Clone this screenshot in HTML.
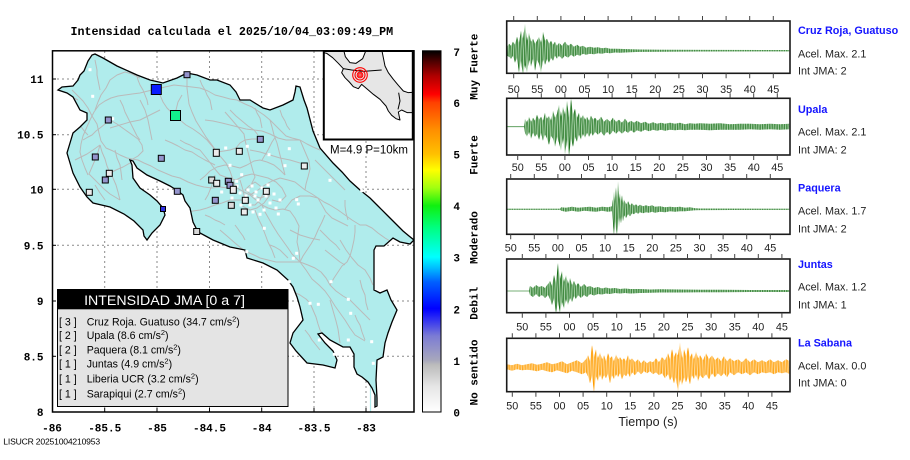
<!DOCTYPE html>
<html><head><meta charset="utf-8"><style>
html,body{margin:0;padding:0;background:#fff;}
svg{display:block;}
.mono{font-family:"Liberation Mono","DejaVu Sans Mono",monospace;font-weight:bold;}
.sans{font-family:"Liberation Sans","DejaVu Sans",sans-serif;}
</style></head><body>
<svg width="910" height="460" viewBox="0 0 910 460" xmlns="http://www.w3.org/2000/svg">
<defs>
<linearGradient id="cb" x1="0" y1="1" x2="0" y2="0">
<stop offset="0" stop-color="#ffffff"/>
<stop offset="0.07" stop-color="#e6e6e6"/>
<stop offset="0.13" stop-color="#bcbcbc"/>
<stop offset="0.143" stop-color="#a8a8bc"/>
<stop offset="0.21" stop-color="#7c7cd4"/>
<stop offset="0.26" stop-color="#2a2af4"/>
<stop offset="0.286" stop-color="#0000ff"/>
<stop offset="0.36" stop-color="#0060ff"/>
<stop offset="0.40" stop-color="#00c0ff"/>
<stop offset="0.429" stop-color="#00ffff"/>
<stop offset="0.51" stop-color="#00ff80"/>
<stop offset="0.571" stop-color="#10f010"/>
<stop offset="0.62" stop-color="#a0ff10"/>
<stop offset="0.67" stop-color="#ffff00"/>
<stop offset="0.714" stop-color="#ffc000"/>
<stop offset="0.78" stop-color="#ff9000"/>
<stop offset="0.857" stop-color="#ff4000"/>
<stop offset="0.88" stop-color="#ff0000"/>
<stop offset="0.93" stop-color="#b00000"/>
<stop offset="0.97" stop-color="#500000"/>
<stop offset="1" stop-color="#000000"/>
</linearGradient>
<pattern id="zg" patternUnits="userSpaceOnUse" x="0" y="-30" width="3.4" height="60"><path d="M0,0L1.7,60L3.4,0" fill="none" stroke="#0b650b" stroke-width="0.7"/></pattern>
<pattern id="zo" patternUnits="userSpaceOnUse" x="0" y="-30" width="3.2" height="60"><path d="M0,0L1.6,60L3.2,0" fill="none" stroke="#ff9c00" stroke-width="0.8"/></pattern>
<path id="landp" d="M58,90 L62,87 73,86 78,80 80,75 84,71 88,61 92,55 95,54 103,58 117,66 137,75 150,80 163,83 177,78 187,73 197,75 210,80 217,80 230,85 236,92 240,100 250,100 263,108 270,110 283,105 293,100 295,92 296,86 300,87 304,100 307,108 313,131 320,148 333,163 342,172 350,181 360,190 370,198 378,206 387,215 395,223 403,231 409,236 414,240 410,244 400,242 393,238 384,246 376,246 374,250 374,290 380,293 387,290 391,300 397,310 392,322 388,333 385,343 383,357 377,360 376,380 377,398 377,406 375,407 375,395 372,388 368,382 362,377 357,374 354,367 354,354 350,347 343,347 330,340 322,333 318,334 325,343 333,351 337,360 335,368 323,365 307,363 296,351 290,343 293,333 303,320 300,307 297,297 293,287 288,280 277,270 263,263 247,258 245,250 230,247 213,240 200,233 197,230 193,222 190,208 185,201 183,195 178,191 170,186 160,181 147,175 137,168 133,161 130,160 132,165 133,178 140,188 150,195 157,201 163,208 165,215 160,225 152,233 147,240 144,236 143,230 134,221 124,214 110,207 93,203 87,197 80,187 73,173 70,163 67,153 70,143 73,133 80,127 87,120 87,113 80,110 73,97 67,93 Z"/>
<clipPath id="landclip"><use href="#landp"/></clipPath>
<clipPath id="mapclip"><rect x="52" y="51" width="362" height="361"/></clipPath>
<clipPath id="insclip"><rect x="324" y="51" width="88" height="88"/></clipPath>
<clipPath id="c1"><rect x="507.5" y="21.8" width="281.7" height="50.7"/></clipPath>
<clipPath id="c2"><rect x="507.5" y="99.1" width="281.7" height="55.1"/></clipPath>
<clipPath id="c3"><rect x="507.5" y="179.8" width="281.7" height="53.7"/></clipPath>
<clipPath id="c4"><rect x="507.5" y="259.8" width="281.7" height="52.1"/></clipPath>
<clipPath id="c5"><rect x="507.5" y="339.1" width="281.7" height="51.8"/></clipPath>
<path id="e1" d="M507,-4 L509,-7 511,-5 513,-9 515,-6 517,-14 519,-8 521,-20 523,-12 525,-27 527,-10 529,-18 531,-9 533,-12 535,-7 537,-10 539,-14 541,-8 543,-19 545,-10 547,-12 549,-7 551,-10 553,-6 555,-9 557,-5 559,-8 562,-5 565,-9 568,-5 571,-7 574,-4 577,-6 580,-4 583,-5 586,-3 590,-4 594,-3 598,-3.5 602,-2.5 606,-3 610,-2 615,-2 620,-1.8 630,-1.5 640,-1.2 660,-1 700,-0.8 790,-0.7 L790,0.7 700,0.8 660,1 640,1.2 630,1.5 620,2 615,1.8 610,2.5 606,2 602,3 598,2.5 594,3.5 590,3 586,4 583,3 580,5 577,4 574,6 571,4 568,7 565,5 562,8 559,5 557,8 555,5 553,10 551,7 549,12 547,8 545,14 543,9 541,22 539,13 537,9 535,20 533,8 531,16 529,9 527,22 525,14 523,25 521,10 519,22 517,7 515,12 513,5 511,8 509,6 507,5 Z"/>
<path id="e2" d="M524,0 L525,-8 527,-4 529,-10 531,-5 533,-9 535,-6 537,-12 539,-7 541,-10 543,-6 545,-14 547,-8 549,-11 551,-6 553,-16 555,-9 557,-13 559,-22 561,-10 563,-20 565,-12 567,-26 569,-9 571,-28 573,-12 575,-18 577,-9 579,-14 581,-8 583,-12 585,-7 587,-10 589,-6 591,-11 593,-7 595,-9 598,-6 601,-10 604,-5 607,-8 610,-5 613,-9 616,-5 619,-7 622,-4 625,-8 628,-4 631,-6 634,-4 637,-6 641,-3.5 645,-5 649,-3 653,-4.5 657,-3 661,-4 665,-3 670,-4 675,-3 680,-4 685,-2.5 690,-3.5 695,-3 700,-3.5 710,-3 720,-3.5 730,-2.5 740,-3 750,-3 760,-2.5 770,-3 780,-2.5 790,-3 L790,2.5 780,3 770,2.5 760,3 750,2.5 740,3 730,3 720,3 710,3.5 700,3 695,3 690,3 685,3.5 680,3 675,3.5 670,3 665,4 661,3 657,4 653,3 649,4.5 645,3 641,5 637,3.5 634,6 631,3.5 628,6 625,4 622,7 619,4 616,7 613,4 610,8 607,5 604,9 601,5 598,8 595,5 593,9 591,6 589,10 587,6 585,11 583,7 581,13 579,8 577,15 575,10 573,20 571,12 569,30 567,13 565,28 563,11 561,24 559,16 557,10 555,20 553,12 551,9 549,18 547,12 545,8 543,14 541,6 539,13 537,7 535,10 533,6 531,12 529,5 527,10 525,6 524,0 Z"/>
<path id="e3" d="M507,-0.5 L560,-0.5 561,-2 566,-1.5 572,-2.5 578,-1.5 584,-2 590,-2.5 596,-1.5 602,-2.5 608,-2 612,-3 613,-10 614,-18 615,-8 616,-22 617,-12 618,-28 619,-10 620,-16 621,-8 622,-14 623,-6 624,-10 626,-5 628,-8 630,-4 632,-6 634,-3.5 636,-5 638,-3 640,-4.5 643,-3 646,-4 649,-3 652,-4 655,-2.5 660,-3 665,-2 670,-2.5 675,-2 680,-2.5 685,-1.5 690,-2 695,-1 700,-0.8 790,-0.5 L790,0.5 700,0.8 695,1 690,1.5 685,2 680,2 675,2.5 670,2 665,3 660,2.5 655,3.5 652,2.5 649,3.5 646,3 643,4 640,3 638,4.5 636,3 634,5 632,4 630,7 628,5 626,9 624,6 623,12 622,7 621,14 620,8 619,18 618,9 617,25 616,20 615,12 614,26 613,14 612,2 608,2.5 602,1.5 596,2.5 590,2 584,1.5 578,2.5 572,1.5 566,2.5 561,1.5 560,0.5 507,0.5 Z"/>
<path id="e4" d="M529,0 L530,-5 533,-3 536,-6 539,-4 542,-5 545,-3 548,-7 550,-10 552,-5 554,-16 556,-8 558,-28 560,-12 562,-20 564,-9 566,-16 568,-7 570,-13 572,-6 574,-10 576,-5 578,-8 581,-4 584,-7 587,-4 590,-5 594,-3 598,-4 602,-2.5 606,-3.5 610,-2.5 615,-3 620,-2 625,-2.5 630,-2 640,-2 650,-1.5 660,-1.8 680,-1.5 700,-1.2 720,-1.3 750,-1 790,-1 L790,1 750,1 720,1.2 700,1.2 680,1.5 660,1.5 650,1.8 640,2 630,2.5 625,2 620,2.5 615,2 610,3 606,2.5 602,3.5 598,3 594,4.5 590,3 587,6 584,4 581,7 578,4 576,8 574,5 572,11 570,7 568,14 566,8 564,18 562,11 560,22 558,10 556,22 554,7 552,14 550,8 548,4 545,7 542,4 539,6 536,3 533,6 530,4 529,0 Z"/>
<path id="e5" d="M507,-3 L512,-2 517,-3.5 522,-2 527,-3 532,-4 537,-2.5 542,-3.5 547,-5 552,-3 557,-4 562,-6 567,-3 572,-5 577,-7 582,-4 586,-8 588,-12 590,-6 592,-22 594,-10 596,-18 598,-9 600,-15 602,-8 604,-12 606,-6 608,-14 610,-9 612,-11 614,-6 616,-13 618,-8 620,-10 622,-7 624,-9 626,-6 628,-12 630,-7 632,-9 635,-5 638,-8 641,-4 644,-7 647,-4 650,-6 653,-5 656,-9 659,-5 662,-10 665,-7 668,-14 670,-8 672,-18 674,-10 676,-15 678,-12 680,-25 682,-9 684,-18 686,-11 688,-20 690,-10 692,-14 694,-8 696,-16 698,-9 700,-12 703,-7 706,-14 709,-8 712,-12 715,-7 718,-10 721,-6 724,-11 727,-6 730,-9 734,-6 738,-8 742,-5 746,-9 750,-5 754,-8 758,-5 762,-7 766,-5 770,-8 774,-5 778,-7 782,-5 786,-8 790,-6 L790,7 786,5 782,6 778,5 774,7 770,5 766,6 762,5 758,7 754,5 750,8 746,5 742,7 738,5 734,8 730,5 727,10 724,6 721,9 718,6 715,10 712,6 709,12 706,7 703,11 700,8 698,14 696,7 694,12 692,8 690,17 688,9 686,15 684,10 682,18 680,12 678,25 676,10 674,16 672,9 670,13 668,7 665,11 662,6 659,8 656,5 653,7 650,4 647,6 644,4 641,7 638,4 635,8 632,5 630,10 628,6 626,9 624,7 622,12 620,6 618,10 616,7 614,12 612,8 610,16 608,6 606,11 604,8 602,13 600,7 598,14 596,9 594,25 592,8 590,16 588,9 586,5 582,7 577,5 572,3.5 567,6 562,4.5 557,3 552,5 547,4 542,2.5 537,4 532,3 527,2.5 522,3 517,2 512,3.5 507,2 Z"/>
</defs>

<!-- Title -->
<text class="mono" x="70.5" y="35" font-size="11.7" fill="#000">Intensidad calculada el 2025/10/04_03:09:49_PM</text>

<!-- Map grid -->
<g stroke="#8a8a8a" stroke-width="1" stroke-dasharray="2,3" fill="none">
<line x1="104.7" y1="51" x2="104.7" y2="412"/>
<line x1="157" y1="51" x2="157" y2="412"/>
<line x1="209.5" y1="51" x2="209.5" y2="412"/>
<line x1="261.7" y1="51" x2="261.7" y2="412"/>
<line x1="314" y1="51" x2="314" y2="412"/>
<line x1="366" y1="51" x2="366" y2="412"/>
<line x1="52" y1="79" x2="414" y2="79"/>
<line x1="52" y1="134.7" x2="414" y2="134.7"/>
<line x1="52" y1="189.3" x2="414" y2="189.3"/>
<line x1="52" y1="245.3" x2="414" y2="245.3"/>
<line x1="52" y1="301" x2="414" y2="301"/>
<line x1="52" y1="356.3" x2="414" y2="356.3"/>
</g>

<!-- Land -->
<g clip-path="url(#mapclip)">
<use href="#landp" fill="#b0ecec"/>
<g clip-path="url(#landclip)" stroke="#bababa" stroke-width="1" fill="none" stroke-linejoin="round">
<path d="M72,90 L78,96 83,101 88,108 92,116 97,124 99,133 101,141 106,148 113,151 120,155 127,158 132,159 138,160 144,163 151,166 158,170 165,173 172,176 180,178 188,182 196,185 204,187 212,188 220,187 228,188 237,188 244,192 250,195"/>
<path d="M250,195 L256,200 262,205 268,208 275,210 283,209 290,211 295,218 299,226 298,234 297,242 299,251 300,262 306,270 312,279 319,285 325,291 330,298 335,306 340,313 345,320 350,328 355,335 360,338 365,341"/>
<path d="M250,195 L258,190 265,185 272,181 280,178 288,180 295,182 300,186 305,190 312,194 318,198 324,202 330,205"/>
<path d="M236,188 L233,180 230,171 226,163 220,156 217,152 212,145 206,137 201,129 196,121 192,112 189,104 188,96 187,88 187,74"/>
<path d="M157,89 L160,95 163,102 167,108 171,112 175,115 180,120 186,125 193,129 200,134 207,140 212,146 217,152"/>
<path d="M110,120 L117,124 124,129 131,134 138,139 142,145 143,151 138,156 131,160"/>
<path d="M100,145 L98,152 95,160 92,167 89,174 94,179 99,184 104,189 110,194 115,197 120,200"/>
<path d="M88,175 L85,168 82,160 80,152 81,144 83,136 86,129 90,120 94,112 99,105 105,101 111,98 118,96 125,95 132,94 140,93 148,91 157,89"/>
<path d="M157,89 L165,87 174,85 183,86 192,87 200,88 208,91 215,95 223,97 230,99 237,100 245,104 252,107 258,111 264,115 270,120 276,126 281,131 286,136 292,138 300,140"/>
<path d="M245,140 L247,148 249,156 251,164 253,171 255,177 252,183 250,188"/>
<path d="M285,175 L283,167 281,159 279,151 277,143 274,135 272,127 270,120"/>
<path d="M186,212 L193,211 200,210 207,208 215,205 222,203 230,200 238,200 245,200"/>
<path d="M220,230 L227,236 235,243 241,248 247,252 254,255 260,258 268,260 276,262 284,262 292,262 300,262 308,265 315,268 321,272 326,278 330,285 336,291 343,296 350,300 357,307 363,313 370,320"/>
<path d="M300,262 L303,256 307,250 311,244 315,237 318,230 322,222 325,215"/>
<path d="M330,205 L338,210 345,215 352,220 360,225 366,225 372,228 378,233 385,238 390,241 395,245"/>
<path d="M330,285 L334,278 338,272 342,266 347,262 350,256 352,249 354,240 355,232 355,225"/>
<path d="M120,200 L118,192 116,185 113,178 110,173 107,166 105,159 102,152 100,145"/>
<path d="M205,120 L213,121 222,123 230,125 238,127 246,129 254,130 262,131 270,134 278,138 286,140 293,140 300,140 307,144 313,147 320,150"/>
<path d="M200,180 L205,176 210,171 217,167 225,165 232,166 240,168 247,165 254,161 260,160 267,162 274,165 280,170 285,175"/>
<path d="M262,205 L265,212 269,219 273,226 278,234 283,241 288,248 292,254 296,258 300,262"/>
<path d="M330,300 L332,307 334,314 336,321 338,329 339,336 340,343"/>
<path d="M310,303 L313,310 316,317 318,324 320,330 322,333"/>
<path d="M240,180 L243,190 245,200 250,205 255,205 260,200 265,190 259,185 255,182 249,186 245,190 252,195 260,198 266,196 270,195 264,203 257,208 250,210 244,207 240,205"/>
<path d="M228,178 L236,180 244,176 252,174 260,176 268,178 276,182 282,188 286,196 280,202 272,200"/>
<path d="M95,110 L98,102 101,95 106,88 110,80 117,75 125,72 132,74 140,78"/>
<path d="M217,152 L224,151 230,150 236,148 240,143 245,140 252,139 260,139"/>
<path d="M300,140 L303,147 306,154 309,161 310,169 308,177 306,184 305,190"/>
<path d="M75,160 L81,157 87,154 93,150 100,145"/>
<path d="M110,173 L116,170 123,167 130,163"/>
<path d="M62,95 L68,100 74,106 80,112 85,118"/>
<path d="M95,185 L100,193 105,200"/>
<path d="M255,210 L258,218 262,226 265,234 268,242 272,250 275,258"/>
<path d="M285,209 L292,200 300,196 310,196 318,198"/>
<path d="M340,240 L346,250 352,258 358,265 365,270 370,278 373,285"/>
<path d="M318,198 L322,205 326,212 332,218 340,222 348,226"/>
<path d="M182,95 L178,102 176,110 175,115"/>
<path d="M225,112 L232,120 238,127 244,134 245,140"/>
<path d="M200,150 L208,160 214,168 220,175 228,178"/>
<path d="M140,100 L145,110 148,120 150,130 152,140"/>
<path d="M262,160 L268,150 272,142 276,136"/>
<path d="M60,92 L66,94 72,97 78,100"/>
<path d="M120,100 L123,106 125,112 128,118 131,124 134,130 137,136 140,140"/>
<path d="M165,140 L172,143 178,146 185,150 192,152 198,156 205,160 211,163 215,165"/>
<path d="M230,110 L236,116 242,121 248,126 254,130 258,135"/>
<path d="M280,110 L282,116 285,121 287,126 290,130"/>
<path d="M315,160 L320,165 325,170 330,175 335,180 340,185 345,190"/>
<path d="M320,230 L325,235 330,240 336,245 340,250"/>
<path d="M345,200 L345,206 346,213 348,220"/>
<path d="M360,280 L362,288 365,295 366,303 368,310"/>
<path d="M280,280 L286,285 290,290 296,293 300,295 306,299 310,303"/>
<path d="M305,330 L309,335 312,340 316,345 320,350"/>
<path d="M83,140 L88,137 92,135 96,131 100,128 105,124 110,120"/>
<path d="M75,120 L79,124 82,128 85,132 88,135"/>
<path d="M115,150 L117,158 120,165 121,172 122,180"/>
<path d="M180,140 L185,143 190,145 195,148 200,150"/>
<path d="M235,225 L238,229 240,232 243,236 245,240"/>
<path d="M270,245 L275,247 280,250 284,254 288,258"/>
<path d="M325,250 L330,254 335,258 340,262 345,265"/>
<path d="M355,315 L357,320 360,325 362,332 365,340"/>
<path d="M200,80 L202,85 205,90 207,95 210,100 211,105 212,110"/>
<path d="M255,108 L257,113 260,118 261,123 262,128"/>
<path d="M137,76 L138,80 140,85 143,90 145,95 147,100 148,105"/>
<path d="M95,60 L96,65 97,70 97,75 98,80 99,85 100,90"/>
<path d="M205,215 L210,217 215,220 220,222 225,225"/>
<path d="M375,260 L378,265 380,270 383,278 385,285"/>
<path d="M160,110 L150,115 140,120 130,122 120,125 110,128"/>
<path d="M250,150 L260,152 270,155 280,158 290,160 300,163"/>
<path d="M215,175 L212,185 208,195 205,200"/>
<path d="M290,230 L300,235 310,238 320,240"/>
</g>
<line x1="370.5" y1="366" x2="370.5" y2="412" stroke="#b0ecec" stroke-width="1.2"/>
<use href="#landp" fill="none" stroke="#000" stroke-width="1.3"/>
<g fill="#ffffff">
<rect x="88.5" y="68.2" width="3" height="3"/><rect x="91.2" y="94.8" width="3" height="3"/><rect x="111.2" y="117.2" width="3" height="3"/><rect x="224.2" y="146.5" width="3" height="3"/><rect x="245.8" y="144.8" width="3" height="3"/><rect x="287.8" y="147.2" width="3" height="3"/><rect x="267.5" y="153.2" width="3" height="3"/><rect x="228.5" y="163.8" width="3" height="3"/><rect x="240.2" y="173.2" width="3" height="3"/><rect x="283.5" y="164.2" width="3" height="3"/><rect x="328.5" y="178.8" width="3" height="3"/><rect x="360.2" y="189.2" width="3" height="3"/><rect x="235.2" y="179.8" width="3" height="3"/><rect x="220.2" y="190.5" width="3" height="3"/><rect x="296.8" y="202.5" width="3" height="3"/><rect x="295.2" y="198.2" width="3" height="3"/><rect x="245.2" y="250.2" width="3" height="3"/><rect x="295.2" y="251.8" width="3" height="3"/><rect x="291.8" y="256.8" width="3" height="3"/><rect x="262.8" y="226.8" width="3" height="3"/><rect x="276.8" y="212.5" width="3" height="3"/><rect x="329.5" y="280.2" width="3" height="3"/><rect x="287.8" y="280.2" width="3" height="3"/><rect x="308.5" y="301.8" width="3" height="3"/><rect x="316.8" y="302.8" width="3" height="3"/><rect x="346.8" y="297.8" width="3" height="3"/><rect x="349.2" y="311.8" width="3" height="3"/><rect x="317.8" y="338.5" width="3" height="3"/><rect x="346.8" y="338.5" width="3" height="3"/><rect x="370.2" y="340.2" width="3" height="3"/><rect x="332.8" y="352.8" width="3" height="3"/><rect x="371.8" y="361.8" width="3" height="3"/><rect x="258.5" y="212.8" width="3" height="3"/>
<rect x="235.5" y="184.5" width="3" height="3"/><rect x="238.5" y="191.5" width="3" height="3"/><rect x="246.5" y="188.5" width="3" height="3"/><rect x="250.5" y="184.5" width="3" height="3"/><rect x="254.5" y="190.5" width="3" height="3"/><rect x="260.5" y="186.5" width="3" height="3"/><rect x="264.5" y="194.5" width="3" height="3"/><rect x="256.5" y="198.5" width="3" height="3"/><rect x="248.5" y="203.5" width="3" height="3"/><rect x="242.5" y="198.5" width="3" height="3"/><rect x="268.5" y="201.5" width="3" height="3"/><rect x="272.5" y="192.5" width="3" height="3"/><rect x="262.5" y="208.5" width="3" height="3"/><rect x="253.5" y="194.5" width="3" height="3"/><rect x="244.5" y="194.5" width="3" height="3"/><rect x="230.5" y="196.5" width="3" height="3"/><rect x="266.5" y="183.5" width="3" height="3"/><rect x="278.5" y="198.5" width="3" height="3"/><rect x="251.5" y="210.5" width="3" height="3"/><rect x="274.5" y="206.5" width="3" height="3"/><rect x="239.5" y="203.5" width="3" height="3"/>
</g>
<g stroke="#000" stroke-width="1">
<rect x="184" y="71.7" width="6" height="6" fill="#9494cc"/>
<rect x="105.3" y="117" width="6" height="6" fill="#9494cc"/>
<rect x="257.3" y="136.3" width="6" height="6" fill="#9494cc"/>
<rect x="213.3" y="149.3" width="6" height="7" fill="#ececec"/>
<rect x="236.3" y="148.3" width="6" height="6" fill="#ececec"/>
<rect x="92.3" y="154" width="6" height="6" fill="#9494cc"/>
<rect x="158.3" y="155.3" width="6" height="6" fill="#9494cc"/>
<rect x="301.3" y="163" width="6" height="6" fill="#ececec"/>
<rect x="106.3" y="170.3" width="6" height="6" fill="#ececec"/>
<rect x="102.3" y="177" width="6" height="6" fill="#9494cc"/>
<rect x="208.7" y="177" width="6" height="6" fill="#dcdcdc"/>
<rect x="213.7" y="180.3" width="6" height="6" fill="#ececec"/>
<rect x="225.3" y="178.3" width="6" height="6" fill="#9494cc"/>
<rect x="227" y="182.3" width="6" height="6" fill="#9494cc"/>
<rect x="230.3" y="186.3" width="6" height="7" fill="#ececec"/>
<rect x="263.3" y="188.3" width="6" height="6" fill="#ececec"/>
<rect x="86.3" y="189.3" width="6" height="6" fill="#ececec"/>
<rect x="174.3" y="188.3" width="6" height="6" fill="#9494cc"/>
<rect x="212.3" y="197.3" width="6" height="6" fill="#9494cc"/>
<rect x="242.3" y="197.3" width="6" height="6" fill="#ececec"/>
<rect x="228.3" y="202.3" width="6" height="6" fill="#dcdcdc"/>
<rect x="241.3" y="209" width="6" height="6" fill="#ececec"/>
<rect x="193.7" y="228.5" width="6" height="6" fill="#d8d8d8"/>
<rect x="160.5" y="206.5" width="5" height="5" fill="#3030e0"/>
<rect x="151.3" y="84.5" width="10" height="10" fill="#0a1cff"/>
<rect x="170.5" y="110.5" width="10" height="10" fill="#12f08c"/>
</g>
</g>

<!-- Map frame -->
<rect x="52.5" y="50.8" width="361.5" height="361.2" fill="none" stroke="#000" stroke-width="1.5"/>
<g stroke="#000" stroke-width="1">
<line x1="52" y1="79" x2="56" y2="79"/><line x1="52" y1="134.7" x2="56" y2="134.7"/><line x1="52" y1="189.3" x2="56" y2="189.3"/><line x1="52" y1="245.3" x2="56" y2="245.3"/><line x1="52" y1="301" x2="56" y2="301"/><line x1="52" y1="356.3" x2="56" y2="356.3"/>
<line x1="104.7" y1="412" x2="104.7" y2="408"/><line x1="157" y1="412" x2="157" y2="408"/><line x1="209.5" y1="412" x2="209.5" y2="408"/><line x1="261.7" y1="412" x2="261.7" y2="408"/><line x1="314" y1="412" x2="314" y2="408"/><line x1="366" y1="412" x2="366" y2="408"/>
</g>

<!-- Axis labels -->
<g class="mono" font-size="11" fill="#000" text-anchor="end">
<text x="43.5" y="83">11</text>
<text x="43.5" y="138.7">10.5</text>
<text x="43.5" y="193.3">10</text>
<text x="43.5" y="249.3">9.5</text>
<text x="43.5" y="305">9</text>
<text x="43.5" y="360.3">8.5</text>
<text x="43.5" y="416">8</text>
</g>
<g class="mono" font-size="11" fill="#000" text-anchor="middle">
<text x="52" y="431.5">-86</text>
<text x="104.7" y="431.5">-85.5</text>
<text x="157" y="431.5">-85</text>
<text x="209.5" y="431.5">-84.5</text>
<text x="261.7" y="431.5">-84</text>
<text x="314" y="431.5">-83.5</text>
<text x="366" y="431.5">-83</text>
</g>

<!-- Inset -->
<rect x="323.5" y="51" width="89.5" height="88.5" fill="#fff"/>
<g clip-path="url(#insclip)">
<g transform="translate(320,46) scale(0.33333)" stroke="#000" stroke-width="3" stroke-linejoin="round">
<path fill="#e6e6e6" d="M10,10 L185,10 190,35 195,60 205,80 220,100 235,118 250,135 265,140 290,138 290,200 262,200 245,192 235,198 240,222 228,218 215,208 205,195 198,180 180,160 160,145 140,128 125,115 115,128 100,122 88,108 75,95 65,80 70,68 55,52 38,35 20,22 10,20 Z"/>
<path fill="#ffffff" d="M70,8 L140,8 128,38 108,52 90,50 76,32 Z"/>
<path fill="none" d="M70,68 L95,72 130,76 185,72"/>
<path fill="none" d="M236,140 L240,165 234,190"/>
</g>
<g fill="none" stroke="#ff0000" stroke-width="1.1">
<circle cx="360" cy="75" r="7.3"/>
<circle cx="360" cy="75" r="5"/>
<circle cx="360" cy="75" r="2.8"/>
<rect x="358.8" y="73.8" width="2.4" height="2.4"/>
</g>
</g>
<rect x="323.8" y="51" width="89" height="88.5" fill="none" stroke="#000" stroke-width="2"/>
<text class="sans" x="330" y="153.5" font-size="11.5" fill="#000">M=4.9 P=10km</text>

<!-- Legend -->
<rect x="57.5" y="289.5" width="230.5" height="117" fill="#e4e4e4" stroke="#000" stroke-width="1"/>
<rect x="57" y="289" width="231.5" height="20.3" fill="#000"/>
<text class="sans" x="164.5" y="305" font-size="14.2" fill="#fff" text-anchor="middle">INTENSIDAD JMA [0 a 7]</text>
<g class="sans" font-size="10.6" fill="#000">
<text x="59" y="325.5">[ 3 ]</text><text x="86.7" y="325.5">Cruz Roja. Guatuso (34.7 cm/s<tspan font-size="7.5" dy="-4">2</tspan><tspan dy="4">)</tspan></text>
<text x="59" y="339">[ 2 ]</text><text x="86.7" y="339">Upala (8.6 cm/s<tspan font-size="7.5" dy="-4">2</tspan><tspan dy="4">)</tspan></text>
<text x="59" y="353.3">[ 2 ]</text><text x="86.7" y="353.3">Paquera (8.1 cm/s<tspan font-size="7.5" dy="-4">2</tspan><tspan dy="4">)</tspan></text>
<text x="59" y="367.5">[ 1 ]</text><text x="86.7" y="367.5">Juntas (4.9 cm/s<tspan font-size="7.5" dy="-4">2</tspan><tspan dy="4">)</tspan></text>
<text x="59" y="382.3">[ 1 ]</text><text x="86.7" y="382.3">Liberia UCR (3.2 cm/s<tspan font-size="7.5" dy="-4">2</tspan><tspan dy="4">)</tspan></text>
<text x="59" y="397.3">[ 1 ]</text><text x="86.7" y="397.3">Sarapiqui (2.7 cm/s<tspan font-size="7.5" dy="-4">2</tspan><tspan dy="4">)</tspan></text>
</g>

<!-- Colorbar -->
<rect x="422.5" y="50.8" width="18.5" height="361.2" fill="url(#cb)" stroke="#000" stroke-width="1"/>
<g class="mono" font-size="11" fill="#000" text-anchor="middle">
<text x="456.7" y="416.5">0</text>
<text x="456.7" y="364.9">1</text>
<text x="456.7" y="313.3">2</text>
<text x="456.7" y="261.7">3</text>
<text x="456.7" y="210.1">4</text>
<text x="456.7" y="158.5">5</text>
<text x="456.7" y="106.9">6</text>
<text x="456.7" y="56">7</text>
</g>
<g class="mono" font-size="11" fill="#000" text-anchor="middle">
<text transform="translate(477.5,66.7) rotate(-90)">Muy Fuerte</text>
<text transform="translate(477.5,155) rotate(-90)">Fuerte</text>
<text transform="translate(477.5,237.5) rotate(-90)">Moderado</text>
<text transform="translate(477.5,303.3) rotate(-90)">Debil</text>
<text transform="translate(477.5,372.5) rotate(-90)">No sentido</text>
</g>

<text class="sans" x="3.3" y="444.5" font-size="8.6" fill="#000" letter-spacing="-0.2">LISUCR 20251004210953</text>

<!-- Seismograms -->
<g clip-path="url(#c1)"><g transform="translate(0,50.7)">
<line x1="507" y1="0" x2="790" y2="0" stroke="#4a944a" stroke-width="0.8"/>
<use href="#e1" fill="#b0d6b0"/><use href="#e1" fill="url(#zg)"/>
</g></g>
<g clip-path="url(#c2)"><g transform="translate(0,126.7)">
<line x1="507" y1="0" x2="790" y2="0" stroke="#4a944a" stroke-width="0.8"/>
<use href="#e2" fill="#b0d6b0"/><use href="#e2" fill="url(#zg)"/>
</g></g>
<g clip-path="url(#c3)"><g transform="translate(0,209.3)">
<line x1="507" y1="0" x2="790" y2="0" stroke="#4a944a" stroke-width="0.8"/>
<use href="#e3" fill="#b0d6b0"/><use href="#e3" fill="url(#zg)"/>
</g></g>
<g clip-path="url(#c4)"><g transform="translate(0,291)">
<line x1="507" y1="0" x2="790" y2="0" stroke="#4a944a" stroke-width="0.8"/>
<use href="#e4" fill="#b0d6b0"/><use href="#e4" fill="url(#zg)"/>
</g></g>
<g clip-path="url(#c5)"><g transform="translate(0,367.3)">
<line x1="507" y1="0" x2="790" y2="0" stroke="#ffa000" stroke-width="0.8"/>
<use href="#e5" fill="#ffdfa8"/><use href="#e5" fill="url(#zo)"/>
</g></g>

<!-- Seismogram frames and ticks -->
<g fill="none" stroke="#1a1a1a" stroke-width="1.6">
<rect x="506.7" y="21" width="283.3" height="52.3"/>
<rect x="506.7" y="98.3" width="283.3" height="56.7"/>
<rect x="506.7" y="179" width="283.3" height="55.3"/>
<rect x="506.7" y="259" width="283.3" height="53.7"/>
<rect x="506.7" y="338.3" width="283.3" height="53.4"/>
</g>
<g fill="none" stroke="#444" stroke-width="1">
<path d="M513.7,16v5m23.6,-5v5m23.6,-5v5m23.6,-5v5m23.6,-5v5m23.6,-5v5m23.6,-5v5m23.6,-5v5m23.6,-5v5m23.6,-5v5m23.6,-5v5m23.6,-5v5 M513.7,73.3v5m23.6,-5v5m23.6,-5v5m23.6,-5v5m23.6,-5v5m23.6,-5v5m23.6,-5v5m23.6,-5v5m23.6,-5v5m23.6,-5v5m23.6,-5v5m23.6,-5v5"/>
<path d="M517.7,93.3v5m23.6,-5v5m23.6,-5v5m23.6,-5v5m23.6,-5v5m23.6,-5v5m23.6,-5v5m23.6,-5v5m23.6,-5v5m23.6,-5v5m23.6,-5v5m23.6,-5v5 M517.7,155v5m23.6,-5v5m23.6,-5v5m23.6,-5v5m23.6,-5v5m23.6,-5v5m23.6,-5v5m23.6,-5v5m23.6,-5v5m23.6,-5v5m23.6,-5v5m23.6,-5v5"/>
<path d="M510.7,174v5m23.6,-5v5m23.6,-5v5m23.6,-5v5m23.6,-5v5m23.6,-5v5m23.6,-5v5m23.6,-5v5m23.6,-5v5m23.6,-5v5m23.6,-5v5m23.6,-5v5 M510.7,234.3v5m23.6,-5v5m23.6,-5v5m23.6,-5v5m23.6,-5v5m23.6,-5v5m23.6,-5v5m23.6,-5v5m23.6,-5v5m23.6,-5v5m23.6,-5v5m23.6,-5v5"/>
<path d="M522.3,254v5m23.6,-5v5m23.6,-5v5m23.6,-5v5m23.6,-5v5m23.6,-5v5m23.6,-5v5m23.6,-5v5m23.6,-5v5m23.6,-5v5m23.6,-5v5m23.6,-5v5 M522.3,312.7v5m23.6,-5v5m23.6,-5v5m23.6,-5v5m23.6,-5v5m23.6,-5v5m23.6,-5v5m23.6,-5v5m23.6,-5v5m23.6,-5v5m23.6,-5v5m23.6,-5v5"/>
<path d="M512.3,333.3v5m23.6,-5v5m23.6,-5v5m23.6,-5v5m23.6,-5v5m23.6,-5v5m23.6,-5v5m23.6,-5v5m23.6,-5v5m23.6,-5v5m23.6,-5v5m23.6,-5v5 M512.3,391.7v5m23.6,-5v5m23.6,-5v5m23.6,-5v5m23.6,-5v5m23.6,-5v5m23.6,-5v5m23.6,-5v5m23.6,-5v5m23.6,-5v5m23.6,-5v5m23.6,-5v5"/>
</g>
<g class="sans" font-size="10.8" fill="#222" text-anchor="middle">
<text x="513.7" y="92.8">50</text><text x="537.3" y="92.8">55</text><text x="560.9" y="92.8">00</text><text x="584.5" y="92.8">05</text><text x="608.1" y="92.8">10</text><text x="631.7" y="92.8">15</text><text x="655.3" y="92.8">20</text><text x="678.9" y="92.8">25</text><text x="702.5" y="92.8">30</text><text x="726.1" y="92.8">35</text><text x="749.7" y="92.8">40</text><text x="773.3" y="92.8">45</text>
<text x="517.7" y="171">50</text><text x="541.3" y="171">55</text><text x="564.9" y="171">00</text><text x="588.5" y="171">05</text><text x="612.1" y="171">10</text><text x="635.7" y="171">15</text><text x="659.3" y="171">20</text><text x="682.9" y="171">25</text><text x="706.5" y="171">30</text><text x="730.1" y="171">35</text><text x="753.7" y="171">40</text><text x="777.3" y="171">45</text>
<text x="510.7" y="251.3">50</text><text x="534.3" y="251.3">55</text><text x="557.9" y="251.3">00</text><text x="581.5" y="251.3">05</text><text x="605.1" y="251.3">10</text><text x="628.7" y="251.3">15</text><text x="652.3" y="251.3">20</text><text x="675.9" y="251.3">25</text><text x="699.5" y="251.3">30</text><text x="723.1" y="251.3">35</text><text x="746.7" y="251.3">40</text><text x="770.3" y="251.3">45</text>
<text x="522.3" y="330.7">50</text><text x="545.9" y="330.7">55</text><text x="569.5" y="330.7">00</text><text x="593.1" y="330.7">05</text><text x="616.7" y="330.7">10</text><text x="640.3" y="330.7">15</text><text x="663.9" y="330.7">20</text><text x="687.5" y="330.7">25</text><text x="711.1" y="330.7">30</text><text x="734.7" y="330.7">35</text><text x="758.3" y="330.7">40</text><text x="781.9" y="330.7">45</text>
<text x="512.3" y="409.7">50</text><text x="535.9" y="409.7">55</text><text x="559.5" y="409.7">00</text><text x="583.1" y="409.7">05</text><text x="606.7" y="409.7">10</text><text x="630.3" y="409.7">15</text><text x="653.9" y="409.7">20</text><text x="677.5" y="409.7">25</text><text x="701.1" y="409.7">30</text><text x="724.7" y="409.7">35</text><text x="748.3" y="409.7">40</text><text x="771.9" y="409.7">45</text>
</g>

<g class="sans" font-size="10.8">
<text x="798" y="34" fill="#1414ff" font-weight="bold">Cruz Roja, Guatuso</text>
<text x="798" y="57.3" fill="#222">Acel. Max. 2.1</text>
<text x="798" y="74.7" fill="#222">Int JMA: 2</text>
<text x="798" y="113" fill="#1414ff" font-weight="bold">Upala</text>
<text x="798" y="135.7" fill="#222">Acel. Max. 2.1</text>
<text x="798" y="153.3" fill="#222">Int JMA: 2</text>
<text x="798" y="191.7" fill="#1414ff" font-weight="bold">Paquera</text>
<text x="798" y="214.7" fill="#222">Acel. Max. 1.7</text>
<text x="798" y="232.3" fill="#222">Int JMA: 2</text>
<text x="798" y="268" fill="#1414ff" font-weight="bold">Juntas</text>
<text x="798" y="290.7" fill="#222">Acel. Max. 1.2</text>
<text x="798" y="308.3" fill="#222">Int JMA: 1</text>
<text x="798" y="346.7" fill="#1414ff" font-weight="bold">La Sabana</text>
<text x="798" y="369.7" fill="#222">Acel. Max. 0.0</text>
<text x="798" y="386.7" fill="#222">Int JMA: 0</text>
</g>
<text class="sans" x="648" y="426" font-size="12.5" fill="#222" text-anchor="middle">Tiempo (s)</text>
</svg>
</body></html>
